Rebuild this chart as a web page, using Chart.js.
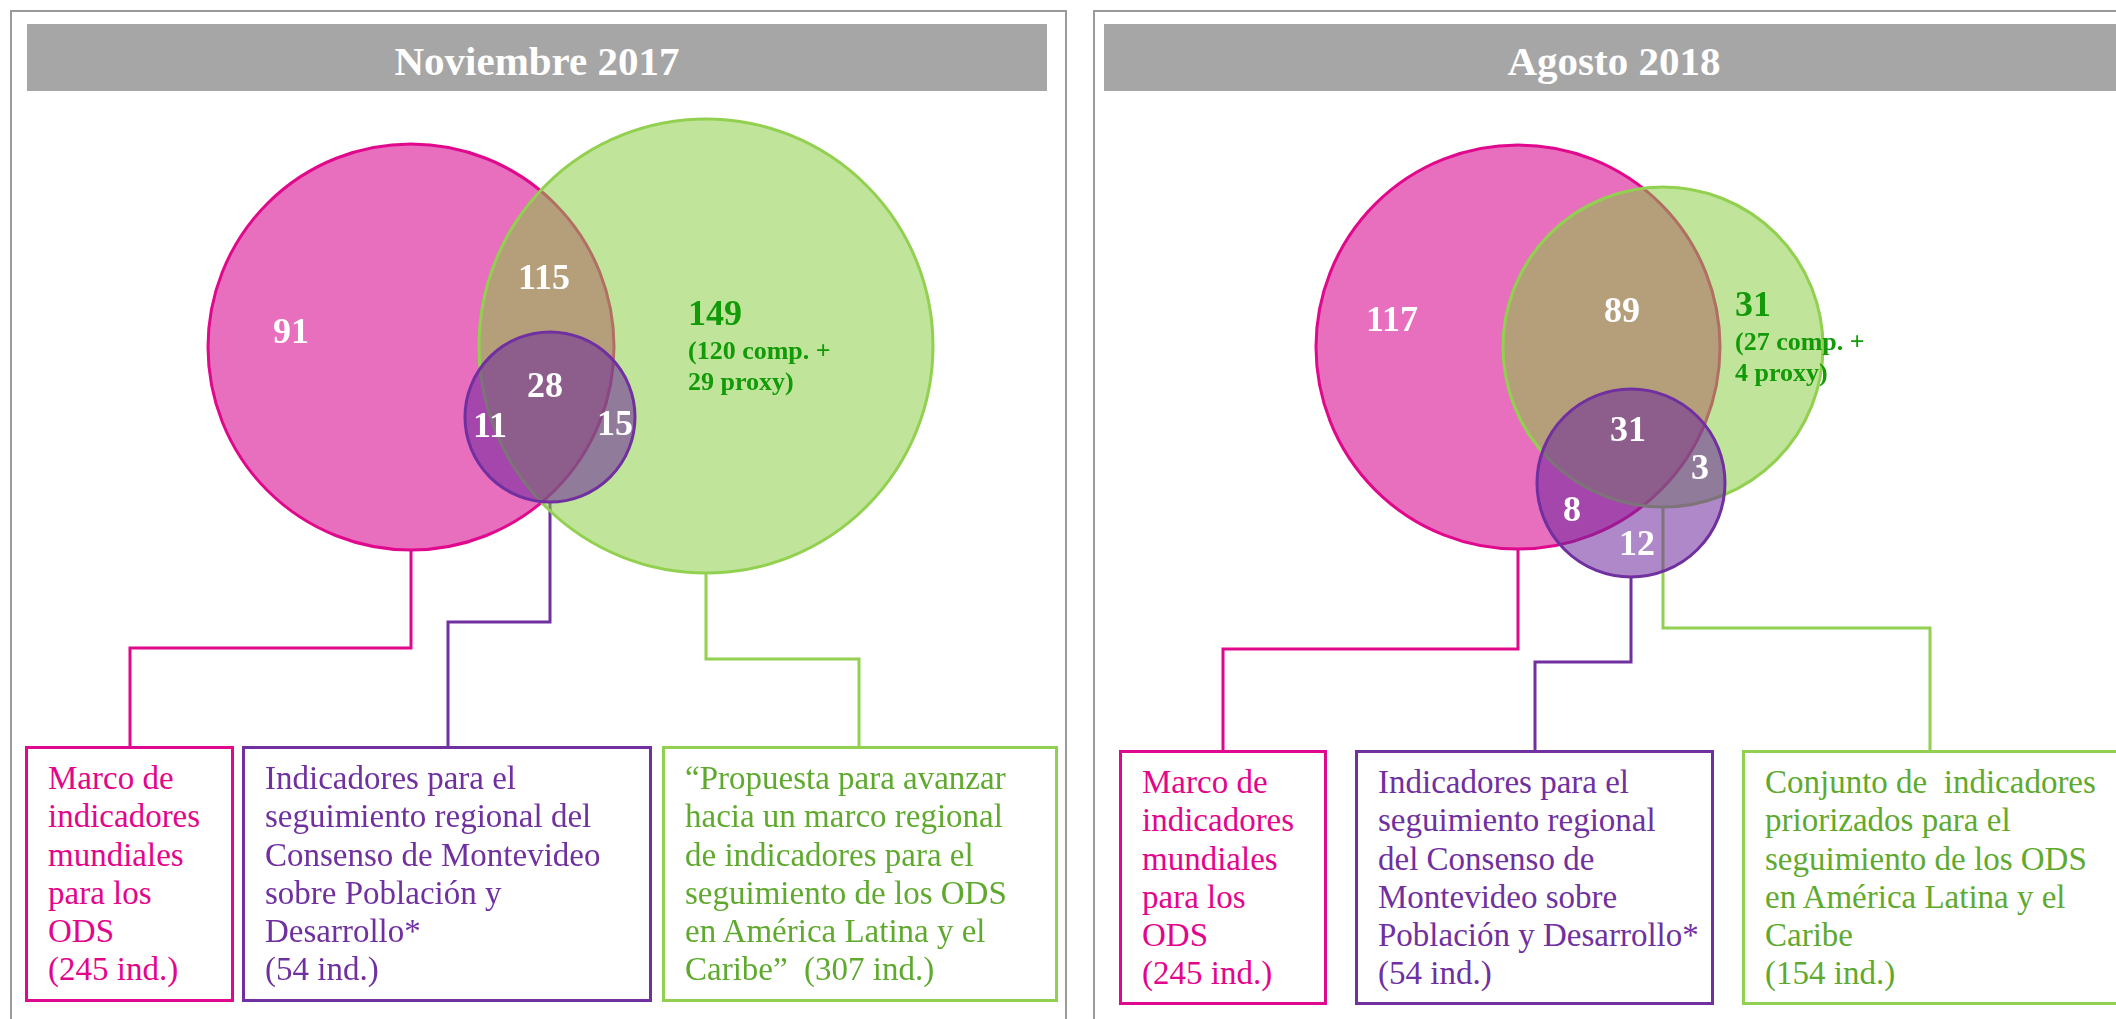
<!DOCTYPE html>
<html>
<head>
<meta charset="utf-8">
<script src="https://cdn.jsdelivr.net/npm/chart.js@4.4.1/dist/chart.umd.min.js"></script>
<style>
  body { margin:0; width:2116px; height:1019px; background:#fff; overflow:hidden; position:relative;
         font-family:"Liberation Serif", "DejaVu Serif", serif; }
  .panel { position:absolute; top:10px; width:1057px; height:1030px; }
  .panel .marco { position:absolute; inset:0; border:2px solid #9a9a9a; box-sizing:border-box; pointer-events:none; }
  .panel canvas { position:absolute; left:0; top:0; }
  .titulo { position:absolute; top:14px; height:67px; width:1020px; background:#a6a6a6; color:#fff;
            font-weight:bold; font-size:41px; text-align:center; line-height:74px; box-sizing:border-box; }
  .caja { position:absolute; border:3px solid; box-sizing:border-box; background:#fff;
          font-size:33px; line-height:38.3px; padding:10px 0 0 20px; white-space:pre; }
</style>
</head>
<body>
<div class="panel" id="panel0" style="left:10px"></div>
<div class="panel" id="panel1" style="left:1093px"></div>
<script>
// Datos (conjuntos: marco mundial ODS, Consenso de Montevideo, propuesta/conjunto regional)
const panelTitles = ['Noviembre 2017', 'Agosto 2018'];
const setSizes2017 = [245, 54, 307];
const setSizes2018 = [245, 54, 154];
// regiones: soloMarco, marco+regional, soloRegional, los tres, marco+mvd, mvd+regional, soloMvd
const regionKeys = ['soloMarco', 'marcoRegional', 'soloRegional', 'tres', 'marcoMvd', 'mvdRegional', 'soloMvd'];
const regionCounts2017 = [91, 115, 149, 28, 11, 15, null];
const regionCounts2018 = [117, 89, 31, 31, 8, 3, 12];
const compProxy2017 = [120, 29];
const compProxy2018 = [27, 4];

const boxLines2017 = [
  ['Marco de', 'indicadores', 'mundiales', 'para los', 'ODS'],
  ['Indicadores para el', 'seguimiento regional del', 'Consenso de Montevideo', 'sobre Población y', 'Desarrollo*'],
  ['“Propuesta para avanzar', 'hacia un marco regional', 'de indicadores para el', 'seguimiento de los ODS', 'en América Latina y el', 'Caribe”']
];
const boxLines2018 = [
  ['Marco de', 'indicadores', 'mundiales', 'para los', 'ODS'],
  ['Indicadores para el', 'seguimiento regional', 'del Consenso de', 'Montevideo sobre', 'Población y Desarrollo*'],
  ['Conjunto de  indicadores', 'priorizados para el', 'seguimiento de los ODS', 'en América Latina y el', 'Caribe']
];
const sizeInline2017 = [false, false, true];
const sizeInline2018 = [false, false, false];

// Estilos
const fills   = ['rgb(232,110,190)', 'rgba(108,39,155,0.55)', 'rgba(136,204,64,0.53)'];
const borders = ['#e0088c', '#7030a0', '#92d050'];
const textCol = ['#e2068c', '#7030a0', '#5faa2e'];
const greenNum = '#129a08';

// Disposicion de cada panel (unidades de la escala = px del panel)
const layouts = [
  {
    circles: [{x:401, y:337, r:203}, {x:540, y:407, r:85}, {x:696, y:336, r:227}],
    labels: {soloMarco:[281,324], marcoRegional:[534,270], soloRegional:[678,306], tres:[535,378],
             marcoMvd:[480,418], mvdRegional:[605,416]},
    elbows: [638, 612, 649], boxX: [120, 438, 849],
    boxes: [[15,224], [232,642], [652,1048]], boxTop: 736, boxBottom: 992, titleLeft: 17
  },
  {
    circles: [{x:425, y:337, r:202}, {x:538, y:473, r:94}, {x:570, y:337, r:160}],
    labels: {soloMarco:[299,312], marcoRegional:[529,303], soloRegional:[642,297], tres:[535,422],
             marcoMvd:[479,502], mvdRegional:[607,460], soloMvd:[544,536]},
    elbows: [639, 652, 618], boxX: [130, 442, 837],
    boxes: [[26,234], [262,621], [649,1040]], boxTop: 740, boxBottom: 995, titleLeft: 11
  }
];

const panels = [
  {counts: regionCounts2017, sizes: setSizes2017, split: compProxy2017, lines: boxLines2017, inline: sizeInline2017},
  {counts: regionCounts2018, sizes: setSizes2018, split: compProxy2018, lines: boxLines2018, inline: sizeInline2018}
];

const W = 1057, H = 1030;

const conectores = {
  id: 'conectores',
  beforeDatasetsDraw(chart, args, opts) {
    const L = opts.layout, xs = chart.scales.x, ys = chart.scales.y, ctx = chart.ctx;
    ctx.save();
    ctx.lineWidth = 3;
    L.circles.forEach((c, i) => {
      ctx.strokeStyle = borders[i];
      ctx.beginPath();
      ctx.moveTo(xs.getPixelForValue(c.x), ys.getPixelForValue(c.y + c.r));
      ctx.lineTo(xs.getPixelForValue(c.x), ys.getPixelForValue(L.elbows[i]));
      ctx.lineTo(xs.getPixelForValue(L.boxX[i]), ys.getPixelForValue(L.elbows[i]));
      ctx.lineTo(xs.getPixelForValue(L.boxX[i]), ys.getPixelForValue(L.boxTop));
      ctx.stroke();
    });
    ctx.restore();
  }
};

const etiquetas = {
  id: 'etiquetas',
  afterDatasetsDraw(chart, args, opts) {
    const L = opts.layout, P = opts.panel, xs = chart.scales.x, ys = chart.scales.y, ctx = chart.ctx;
    ctx.save();
    ctx.textBaseline = 'middle';
    regionKeys.forEach((k, i) => {
      const v = P.counts[i];
      if (v == null) return;
      const [lx, ly] = L.labels[k];
      const px = xs.getPixelForValue(lx), py = ys.getPixelForValue(ly);
      if (k === 'soloRegional') {
        ctx.fillStyle = greenNum;
        ctx.textAlign = 'left';
        ctx.font = 'bold 36px "Liberation Serif"';
        ctx.fillText(String(v), px, py);
        ctx.font = 'bold 26px "Liberation Serif"';
        ctx.fillText('(' + P.split[0] + ' comp. +', px, ys.getPixelForValue(ly + 36));
        ctx.fillText(P.split[1] + ' proxy)', px, ys.getPixelForValue(ly + 67));
      } else {
        ctx.fillStyle = '#ffffff';
        ctx.textAlign = 'center';
        ctx.font = 'bold 36px "Liberation Serif"';
        ctx.fillText(String(v), px, py);
      }
    });
    ctx.restore();
  }
};

panels.forEach((P, pi) => {
  const L = layouts[pi];
  const host = document.getElementById('panel' + pi);

  const canvas = document.createElement('canvas');
  canvas.width = W; canvas.height = H;
  host.appendChild(canvas);

  const titulo = document.createElement('div');
  titulo.className = 'titulo';
  titulo.style.left = L.titleLeft + 'px';
  titulo.textContent = panelTitles[pi];
  host.appendChild(titulo);

  P.lines.forEach((lines, i) => {
    const caja = document.createElement('div');
    caja.className = 'caja';
    caja.style.left = L.boxes[i][0] + 'px';
    caja.style.width = (L.boxes[i][1] - L.boxes[i][0]) + 'px';
    caja.style.top = L.boxTop + 'px';
    caja.style.height = (L.boxBottom - L.boxTop) + 'px';
    caja.style.borderColor = borders[i];
    caja.style.color = textCol[i];
    const txt = lines.slice();
    const tam = '(' + P.sizes[i] + ' ind.)';
    if (P.inline[i]) txt[txt.length - 1] += '  ' + tam; else txt.push(tam);
    caja.textContent = txt.join('\n');
    host.appendChild(caja);
  });

  const borde = document.createElement('div');
  borde.className = 'marco';
  host.appendChild(borde);

  // dibujo: marco abajo, regional en medio, montevideo arriba
  const drawOrder = [3, 1, 2];
  new Chart(canvas, {
    type: 'bubble',
    data: {
      datasets: L.circles.map((c, i) => ({
        data: [{x: c.x, y: c.y, r: c.r}],
        backgroundColor: fills[i],
        borderColor: borders[i],
        borderWidth: 3,
        order: drawOrder[i],
        clip: false
      }))
    },
    options: {
      responsive: false,
      animation: false,
      events: [],
      layout: { padding: 0, autoPadding: false },
      scales: {
        x: { type: 'linear', min: 0, max: W, display: false },
        y: { type: 'linear', min: 0, max: H, reverse: true, display: false }
      },
      plugins: {
        legend: { display: false },
        tooltip: { enabled: false },
        conectores: { layout: L },
        etiquetas: { layout: L, panel: P }
      }
    },
    plugins: [conectores, etiquetas]
  });
});
</script>
</body>
</html>
